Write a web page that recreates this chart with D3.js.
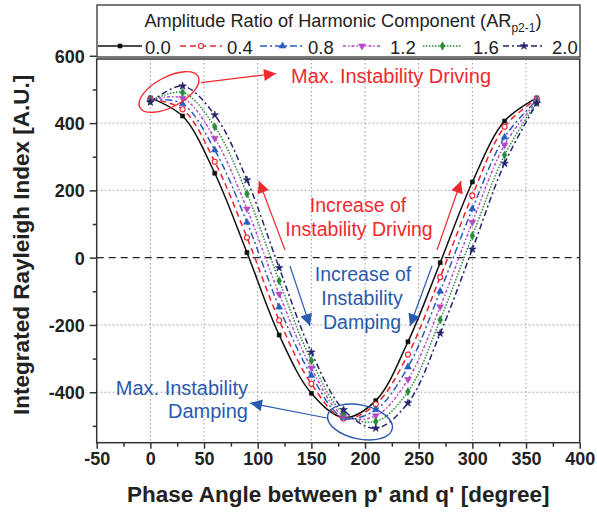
<!DOCTYPE html>
<html><head><meta charset="utf-8">
<script src="https://cdn.jsdelivr.net/npm/d3@7"></script>
<style>body{margin:0;background:#fff;} svg{display:block;font-family:"Liberation Sans",Arial,sans-serif;}</style>
</head><body>
<svg id="c" width="597" height="513"></svg>
<script>
const phases = [0,30,60,90,120,150,180,210,240,270,300,330,360];
const ratios = ["0.0","0.4","0.8","1.2","1.6","2.0"];
const s00 = [475, 421, 251, 15, -230, -403, -475, -425, -250, -15, 225, 406, 475];
const s04 = [472, 441, 285, 60, -186, -375, -478, -436, -288, -58, 185, 389, 472];
const s08 = [470, 457, 320, 105, -147, -350, -476, -452, -325, -100, 145, 358, 468];
const s12 = [468, 474, 355, 145, -108, -328, -470, -470, -362, -146, 105, 335, 465];
const s16 = [466, 491, 389, 190, -69, -306, -462, -487, -398, -185, 65, 305, 462];
const s20 = [462, 510, 424, 231, -30, -281, -452, -507, -432, -225, 25, 280, 459];
const seriesValues = [s00, s04, s08, s12, s16, s20];
const xTicks = [-50,0,50,100,150,200,250,300,350,400];
const yTicks = [-400,-200,0,200,400,600];

const colors = ["#111111","#f0202a","#2a5cc0","#b548c8","#2a8c3a","#25246e"];
const dashes = [null,"6,4","7,3,2,3","3,2,1.5,2","1.5,1.5","6,3,2,3"];
const symbols = [d3.symbolSquare, d3.symbolCircle, d3.symbolTriangle, d3.symbolTriangle, d3.symbolDiamond, d3.symbolStar];

const svg = d3.select("#c");
const x = d3.scaleLinear().domain([-50,400]).range([96.7,579.7]);
const y = d3.scaleLinear().domain([-550,600]).range([442.7,55.8]);
const pTop = 59, pBot = 442.7, pLeft = 96.7, pRight = 579.7;

// grid
const g = svg.append("g");
g.selectAll(".gx").data(xTicks.filter(d=>d>-50&&d<400)).join("line")
 .attr("x1",d=>x(d)).attr("x2",d=>x(d)).attr("y1",pTop).attr("y2",pBot)
 .attr("stroke","#9a9a9a").attr("stroke-width",1).attr("stroke-dasharray","1.5,2.5");
g.selectAll(".gy").data([-400,-200,200,400]).join("line")
 .attr("x1",pLeft).attr("x2",pRight).attr("y1",d=>y(d)).attr("y2",d=>y(d))
 .attr("stroke","#9a9a9a").attr("stroke-width",1).attr("stroke-dasharray","1.5,2.5");
g.append("line").attr("x1",pLeft).attr("x2",pRight).attr("y1",y(0)).attr("y2",y(0))
 .attr("stroke","#222").attr("stroke-width",1.3).attr("stroke-dasharray","7,5");

// curves
const line = d3.line().x((d,i)=>x(phases[i])).y(d=>y(d)).curve(d3.curveCatmullRom.alpha(0.5));
seriesValues.forEach((vals,k)=>{
  const p = svg.append("path").attr("d",line(vals)).attr("fill","none")
    .attr("stroke",colors[k]).attr("stroke-width",1.5);
  if (dashes[k]) p.attr("stroke-dasharray",dashes[k]);
});
function marker(sel,k){
  const sz = [16,20,20,20,20,18][k];
  sel.attr("d",d3.symbol().type(symbols[k]).size(sz))
   .attr("fill",k===1?"#fff":colors[k]).attr("stroke",colors[k]).attr("stroke-width",k===1?1.1:0.6);
}
seriesValues.forEach((vals,k)=>{
  svg.append("g").selectAll("path").data(vals).join("path")
    .attr("transform",(d,i)=>`translate(${x(phases[i])},${y(d)})${k===3?" rotate(180)":""}`)
    .call(marker,k);
});

// frame & axes
svg.append("rect").attr("x",pLeft).attr("y",pTop).attr("width",pRight-pLeft).attr("height",pBot-pTop)
 .attr("fill","none").attr("stroke","#333").attr("stroke-width",1.5);
const fmt = d => String(d);
const ax = svg.append("g").attr("transform",`translate(0,${pBot})`)
 .call(d3.axisBottom(x).tickValues(xTicks).tickSize(6).tickPadding(4).tickFormat(fmt));
const axm = svg.append("g").attr("transform",`translate(0,${pBot})`)
 .call(d3.axisBottom(x).tickValues(d3.range(-25,400,50)).tickSize(4).tickFormat(""));
const ay = svg.append("g").attr("transform",`translate(${pLeft},0)`)
 .call(d3.axisLeft(y).tickValues(yTicks).tickSize(7).tickPadding(5).tickFormat(fmt));
const aym = svg.append("g").attr("transform",`translate(${pLeft},0)`)
 .call(d3.axisLeft(y).tickValues([-500,-300,-100,100,300,500]).tickSize(4).tickFormat(""));
[ax,axm,ay,aym].forEach(a=>{a.select(".domain").remove();
  a.selectAll("line").attr("stroke","#333").attr("stroke-width",1.5);
  a.selectAll("text").attr("font-family","Liberation Sans, Arial").attr("font-size",18).attr("font-weight","bold").attr("fill","#222");});
ay.selectAll("text").attr("dy","0.36em");

svg.append("text").attr("x",(pLeft+pRight)/2).attr("y",502).attr("text-anchor","middle")
 .attr("font-size",22.5).attr("font-weight","bold").attr("fill","#222").text("Phase Angle between p' and q' [degree]");
svg.append("text").attr("transform",`translate(29,${(pTop+pBot)/2-6}) rotate(-90)`).attr("text-anchor","middle")
 .attr("font-size",22.5).attr("font-weight","bold").attr("fill","#222").text("Integrated Rayleigh Index [A.U.]");

// legend
const lg = svg.append("g");
lg.append("rect").attr("x",97).attr("y",5).attr("width",483).attr("height",52)
 .attr("fill","#fff").attr("stroke","#333").attr("stroke-width",1.3);
const lt = lg.append("text").attr("x",343).attr("y",27).attr("text-anchor","middle")
 .attr("font-size",18.2).attr("fill","#222");
lt.append("tspan").text("Amplitude Ratio of Harmonic Component (AR");
lt.append("tspan").attr("font-size",12).attr("dy",5).text("p2-1");
lt.append("tspan").attr("dy",-5).text(")");
const lx1 = [98,180,260,343,423,503], lx2 = [142,222,305,381,462,545], ltx = [145,227,308,390,473,552];
ratios.forEach((r,k)=>{
  const l = lg.append("line").attr("x1",lx1[k]).attr("x2",lx2[k]).attr("y1",46).attr("y2",46)
    .attr("stroke",colors[k]).attr("stroke-width",1.5);
  if (dashes[k]) l.attr("stroke-dasharray",dashes[k]);
  lg.append("path").attr("transform",`translate(${(lx1[k]+lx2[k])/2},46)${k===3?" rotate(180)":""}`).call(marker,k);
  lg.append("text").attr("x",ltx[k]).attr("y",53.5).attr("font-size",18.5).attr("fill","#222").text(r);
});

// annotations
const red = "#ee2a30", blue = "#2a5aae";
const defs = svg.append("defs");
[["ar",red],["ab",blue]].forEach(([id,c])=>{
  defs.append("marker").attr("id",id).attr("viewBox","0 0 10 10").attr("refX",10).attr("refY",5)
   .attr("markerWidth",16).attr("markerHeight",12).attr("markerUnits","userSpaceOnUse").attr("orient","auto")
   .append("path").attr("d","M0,0L10,5L0,10Z").attr("fill",c);
});
svg.append("ellipse").attr("cx",169).attr("cy",92).attr("rx",33).attr("ry",15)
 .attr("transform","rotate(-28,169,92)").attr("fill","none").attr("stroke",red).attr("stroke-width",1.4);
svg.append("ellipse").attr("cx",360).attr("cy",422).attr("rx",33).attr("ry",17)
 .attr("transform","rotate(12,360,422)").attr("fill","none").attr("stroke",blue).attr("stroke-width",1.4);
function arrow(x1,y1,x2,y2,id,c){
  svg.append("line").attr("x1",x1).attr("y1",y1).attr("x2",x2).attr("y2",y2)
   .attr("stroke",c).attr("stroke-width",1.2).attr("marker-end",`url(#${id})`);
}
arrow(201,82.7,276,73.5,"ar",red);
arrow(285,250,259,181,"ar",red);
arrow(437,250,461,181,"ar",red);
arrow(290,266,310,326,"ab",blue);
arrow(432,266,410,326,"ab",blue);
arrow(327,418,250,403,"ab",blue);
function txt(xp,yp,s,c,fs,anchor){
  svg.append("text").attr("x",xp).attr("y",yp).attr("text-anchor",anchor||"middle")
   .attr("font-size",fs).attr("fill",c).text(s);
}
txt(291,83,"Max. Instability Driving",red,20,"start");
txt(358,212,"Increase of",red,19.5);
txt(359,236,"Instability Driving",red,19.5);
txt(363,281,"Increase of",blue,19.5);
txt(362,305,"Instability",blue,19.5);
txt(362,329,"Damping",blue,19.5);
txt(248,395,"Max. Instability",blue,20,"end");
txt(248,418,"Damping",blue,20,"end");
</script>
</body></html>
